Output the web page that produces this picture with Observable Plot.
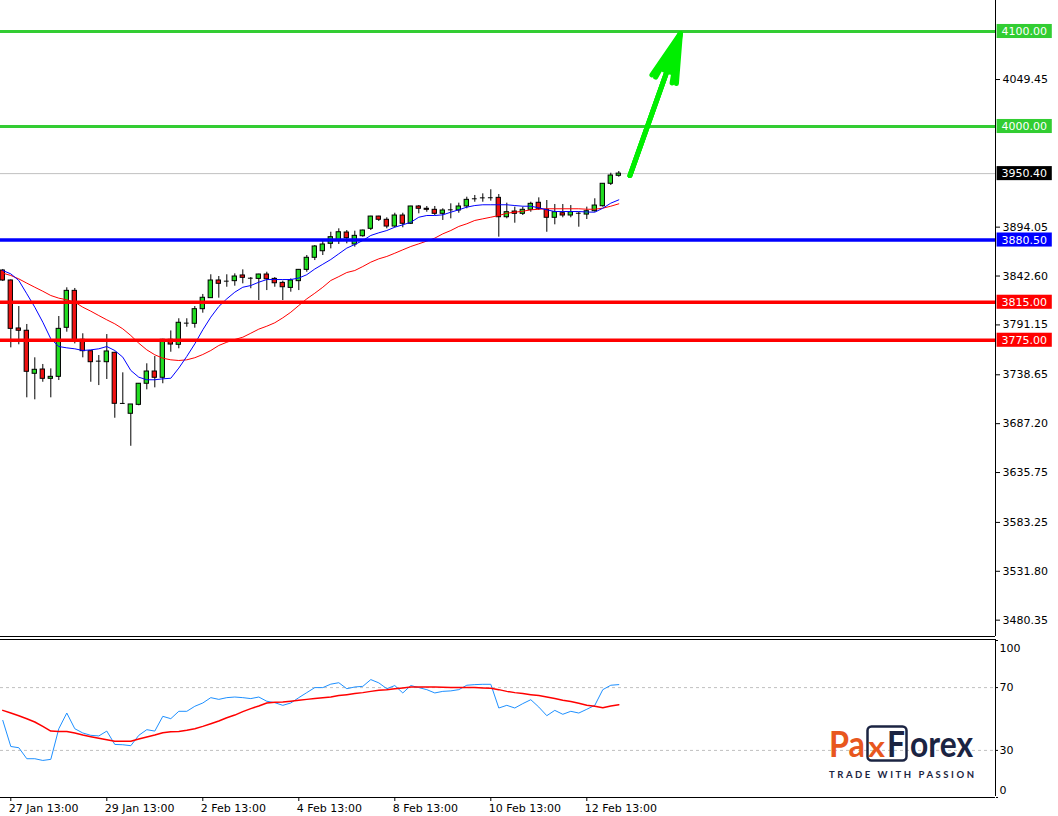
<!DOCTYPE html>
<html><head><meta charset="utf-8">
<script src="https://cdn.jsdelivr.net/npm/d3@7"></script>
<script src="https://cdn.jsdelivr.net/npm/@observablehq/plot@0.6"></script>
<style>
html,body{margin:0;padding:0;background:#fff;}
#wrap{position:relative;width:1058px;height:816px;overflow:hidden;font-family:"DejaVu Sans",sans-serif;}
#wrap svg{position:absolute;left:0;}
</style></head>
<body><div id="wrap"></div>
<script>
// ---- H4 candles (index 0 = first visible bar) ----
const opens  = [3848.4,3837.9,3787.4,3785.0,3739.7,3744.2,3734.4,3736.5,3788.1,3827.0,
                3775.5,3763.5,3753.0,3751.9,3761.8,3708.5,3697.6,3707.0,3729.2,3742.1,
                3735.5,3775.5,3770.2,3793.0,3792.3,3807.7,3819.3,3837.9,3837.2,3837.2,
                3843.2,3840.3,3839.6,3844.2,3839.6,3835.4,3830.1,3837.2,3849.1,3861.8,
                3868.7,3876.5,3880.0,3888.4,3875.8,3884.5,3892.3,3905.2,3901.8,3894.7,
                3906.3,3897.6,3915.8,3913.4,3912.3,3908.1,3912.3,3911.6,3915.8,3923.9,
                3924.9,3925.0,3924.9,3904.5,3910.5,3908.1,3912.3,3919.7,3912.3,3903.9,
                3908.7,3906.3,3908.7,3907.3,3910.8,3916.1,3939.7,3948.1];
const highs  = [3849.5,3838.5,3810.5,3791.6,3756.5,3749.5,3744.9,3800.0,3830.2,3829.5,
                3781.8,3764.0,3758.9,3781.0,3762.3,3740.7,3707.4,3729.5,3750.2,3757.9,
                3776.0,3784.8,3797.6,3797.6,3810.5,3823.2,3843.9,3842.1,3843.9,3844.9,
                3849.1,3841.0,3844.5,3846.6,3841.0,3837.2,3839.6,3849.5,3864.2,3874.7,
                3880.0,3888.7,3892.3,3890.5,3889.8,3891.0,3905.5,3905.5,3903.9,3908.7,
                3908.7,3916.0,3916.8,3915.8,3915.8,3913.4,3918.6,3919.3,3925.6,3927.4,
                3929.1,3933.4,3928.4,3919.3,3915.1,3915.1,3920.3,3924.9,3922.1,3917.9,
                3917.9,3916.8,3909.8,3915.1,3923.9,3940.0,3950.8,3952.6];
const lows   = [3836.8,3767.0,3770.2,3714.4,3712.3,3730.8,3714.4,3732.6,3783.5,3771.2,
                3756.5,3730.8,3727.3,3733.7,3692.9,3707.4,3663.4,3706.0,3722.8,3724.9,
                3729.2,3762.4,3766.0,3788.7,3787.7,3803.5,3819.0,3819.3,3830.8,3831.9,
                3834.4,3829.2,3816.8,3827.3,3830.8,3816.8,3825.6,3827.3,3846.6,3858.9,
                3864.2,3871.2,3875.8,3876.5,3873.0,3883.5,3890.5,3900.0,3892.3,3893.4,
                3893.4,3896.8,3908.1,3909.8,3906.3,3901.1,3902.8,3908.7,3913.4,3920.3,
                3920.3,3921.4,3883.5,3902.8,3898.2,3906.3,3909.8,3911.6,3888.7,3896.5,
                3903.9,3903.9,3894.0,3902.1,3909.8,3915.1,3937.9,3946.6];
const closes = [3837.9,3787.0,3785.0,3741.8,3743.9,3734.4,3736.5,3787.0,3827.0,3773.5,
                3763.5,3751.9,3753.0,3763.2,3708.1,3708.5,3707.4,3729.2,3742.1,3735.5,
                3775.5,3770.5,3793.4,3793.0,3807.7,3819.7,3837.9,3834.4,3837.2,3842.1,
                3840.7,3840.3,3844.2,3839.2,3835.0,3830.8,3837.9,3849.1,3861.8,3873.7,
                3875.8,3883.5,3888.7,3882.4,3884.9,3890.5,3905.2,3901.8,3894.7,3906.3,
                3897.6,3915.8,3913.4,3912.3,3908.1,3911.6,3912.3,3915.8,3922.8,3923.9,
                3924.9,3925.0,3904.5,3909.8,3908.1,3912.3,3918.6,3913.4,3903.9,3909.8,
                3906.3,3909.8,3908.7,3910.8,3916.8,3939.7,3948.4,3950.4];

// ---- moving averages ----
const maFast = [3848.4,3844.9,3837.9,3823.9,3809.8,3794.0,3776.5,3768.4,3767.0,3766.0,
                3764.2,3764.9,3766.0,3768.4,3764.2,3757.2,3743.2,3736.1,3733.4,3733.4,
                3734.4,3735.0,3745.7,3758.0,3771.2,3786.0,3799.3,3810.5,3818.6,3825.6,
                3830.8,3832.6,3836.1,3838.9,3838.9,3838.9,3838.9,3840.5,3844.0,3850.0,
                3855.0,3860.0,3866.0,3872.0,3875.8,3880.0,3885.3,3888.1,3890.5,3894.0,
                3896.5,3899.2,3904.5,3906.3,3906.3,3907.0,3909.8,3912.3,3915.1,3916.8,
                3917.6,3917.6,3917.6,3917.6,3916.8,3916.1,3916.1,3914.4,3912.3,3910.5,
                3910.5,3910.5,3910.5,3910.0,3909.8,3914.0,3919.3,3922.8];
const maSlow = [3845.6,3843.2,3839.6,3835.1,3830.8,3826.6,3822.1,3819.3,3817.6,3815.1,
                3809.8,3805.6,3801.0,3796.5,3792.3,3787.0,3780.0,3771.9,3764.9,3759.7,
                3756.1,3754.4,3753.7,3754.4,3756.6,3760.0,3764.2,3769.5,3772.9,3775.8,
                3778.2,3782.4,3786.7,3789.8,3793.4,3798.6,3804.5,3811.6,3818.6,3824.5,
                3830.8,3837.9,3842.0,3846.3,3848.4,3852.6,3857.2,3860.7,3863.2,3866.6,
                3870.2,3873.7,3876.5,3879.4,3882.5,3887.0,3890.5,3894.8,3897.6,3901.1,
                3902.8,3904.5,3906.3,3908.7,3909.8,3910.8,3912.3,3912.9,3913.4,3913.4,
                3913.4,3913.4,3913.4,3912.9,3912.9,3914.0,3916.1,3918.6];

// ---- oscillator panel ----
const rsi = [49.1,32.5,31.7,24.7,24.7,23.6,24.3,43.8,53.8,43.8,
             41.1,39.6,39.2,42.3,33.8,33.6,33.0,39.6,43.2,42.3,
             51.7,50.2,54.9,54.9,58.1,60.2,63.6,62.5,63.6,64.0,
             63.6,63.0,64.0,61.3,60.4,58.7,60.2,63.6,66.8,70.0,
             70.0,72.2,73.1,69.3,70.4,70.8,75.1,73.0,69.3,71.3,
             66.6,71.3,70.0,68.7,66.6,67.6,67.9,68.7,71.5,71.9,
             72.1,72.1,57.0,58.7,57.0,59.8,62.3,57.6,52.1,55.5,
             53.0,54.9,53.8,56.2,58.7,68.7,71.5,71.9];
const rsiSignal = [55.5,53.8,52.1,50.2,48.1,45.3,42.3,42.1,42.1,41.1,
                   39.8,38.7,37.7,36.8,35.8,35.8,35.8,37.2,38.5,39.8,
                   41.3,41.9,42.1,42.8,43.8,45.3,47.0,48.7,50.8,52.5,
                   54.7,56.6,58.3,60.2,60.6,60.8,61.3,61.9,62.5,63.0,
                   63.6,64.0,64.9,65.5,66.2,66.8,67.6,68.3,68.7,69.3,
                   69.8,70.4,70.4,70.4,70.4,70.2,70.0,70.0,70.0,70.0,
                   69.8,69.6,68.7,67.6,66.8,66.2,65.5,64.9,64.0,63.0,
                   61.9,61.1,60.0,58.7,58.1,57.2,58.3,59.1];

// ---- axes, levels, annotations ----
const priceTicks = [3480.35,3531.80,3583.25,3635.75,3687.20,3738.65,3791.15,3842.60,3894.05,4049.45];
const timeTickIndex  = [1,13,25,37,49,61,73];
const timeTickLabels = ["27 Jan 13:00","29 Jan 13:00","2 Feb 13:00","4 Feb 13:00","8 Feb 13:00","10 Feb 13:00","12 Feb 13:00"];
const targetLevels  = [4100, 4000];
const supportLevel  = [3880.5];
const resistLevels  = [3815, 3775];
const currentPrice  = 3950.40;
const tagValues = [4100, 4000, 3950.40, 3880.5, 3815, 3775];
const tagColors = ["#32cd32","#32cd32","#000000","#0000ff","#ff0000","#ff0000"];
const arrowFrom = [78.4, 3948.4];
const arrowTo   = [84.7, 4097.9];
const oscLevels = [70, 30];
const oscTicks  = [100, 70, 30, 0];

// ---- build ----
const candles = opens.map((o, i) => ({i, open: o, high: highs[i], low: lows[i], close: closes[i]}));
const bodies = candles.filter(d => d.open !== d.close);
const dojis = candles.filter(d => d.open === d.close);
const tags = tagValues.map((v, k) => ({v, color: tagColors[k]}));
const xMin = -0.2875, xMax = 124.0875;
const yLow = 3463.16, yHigh = 4132.63;
const st = {fontFamily: "DejaVu Sans, sans-serif", fontSize: "11px", background: "transparent", overflow: "visible", color: "black"};
const arrowSpec = {x1: d => d.a[0], y1: d => d.a[1], x2: d => d.b[0], y2: d => d.b[1], stroke: "#00ee00", strokeWidth: 5};
const arrowData = [{a: arrowFrom, b: arrowTo}];

const main = Plot.plot({
  width: 1058, height: 637,
  marginLeft: 0, marginRight: 63, marginTop: 0, marginBottom: 1,
  x: {type: "linear", domain: [xMin, xMax], axis: null},
  y: {type: "linear", domain: [yLow, yHigh], axis: "right", ticks: priceTicks,
      tickFormat: d => d.toFixed(2), tickSize: 4, tickPadding: 3, label: null},
  style: st,
  marks: [
    Plot.ruleY([currentPrice], {stroke: "#c0c0c0", strokeWidth: 1}),
    Plot.ruleX(candles, {x: "i", y1: "low", y2: "high", stroke: "black", strokeWidth: 1}),
    Plot.rect(bodies, {x1: d => d.i - 0.27, x2: d => d.i + 0.27, y1: "open", y2: "close",
      fill: d => d.close > d.open ? "#22dd22" : "#ee1111", stroke: "black", strokeWidth: 1}),
    Plot.ruleY(dojis, {y: "open", x1: d => d.i - 0.3, x2: d => d.i + 0.3, stroke: "black", strokeWidth: 1}),
    Plot.line(maSlow, {x: (d, i) => i, y: d => d, stroke: "#ff0000", strokeWidth: 1}),
    Plot.line(maFast, {x: (d, i) => i, y: d => d, stroke: "#0000ff", strokeWidth: 1}),
    Plot.ruleY(targetLevels, {stroke: "#33cc33", strokeWidth: 3}),
    Plot.ruleY(supportLevel, {stroke: "#0000ff", strokeWidth: 3.5}),
    Plot.ruleY(resistLevels, {stroke: "#ff0000", strokeWidth: 3.5}),
    Plot.arrow(arrowData, {...arrowSpec, headLength: 18, headAngle: 30}),
    Plot.arrow(arrowData, {...arrowSpec, headLength: 16, headAngle: 20}),
    Plot.arrow(arrowData, {...arrowSpec, headLength: 12, headAngle: 10}),
    Plot.ruleY([yLow], {stroke: "black", strokeWidth: 1}),
    Plot.ruleX([xMax], {stroke: "black", strokeWidth: 1}),
    Plot.rect(tags, {x1: xMax + 0.2, x2: xMax + 7.1, y1: d => d.v - 7.4, y2: d => d.v + 7.4, fill: "color"}),
    Plot.text(tags, {x: xMax, y: "v", text: d => d.v.toFixed(2), dx: 6, textAnchor: "start", fill: "white", fontSize: 11})
  ]
});
main.style.top = "0px";

const osc = Plot.plot({
  width: 1058, height: 179,
  marginLeft: 0, marginRight: 63, marginTop: 3, marginBottom: 19,
  x: {type: "linear", domain: [xMin, xMax], axis: "bottom", ticks: timeTickIndex,
      tickFormat: () => "", tickSize: 4, label: null},
  y: {type: "linear", domain: [0, 100], axis: "right", ticks: oscTicks,
      tickFormat: d => oscLevels.includes(d) ? String(d) : "", tickSize: 2, tickPadding: 2, label: null},
  style: st,
  marks: [
    Plot.ruleY(oscLevels, {stroke: "#c0c0c0", strokeDasharray: "3,3"}),
    Plot.line(rsi, {x: (d, i) => i, y: d => d, stroke: "#1e90ff", strokeWidth: 1}),
    Plot.line(rsiSignal, {x: (d, i) => i, y: d => d, stroke: "#ff0000", strokeWidth: 1.5}),
    Plot.ruleY([0], {stroke: "black"}),
    Plot.ruleY([100], {stroke: "black", dy: -1}),
    Plot.ruleX([xMax], {stroke: "black", dy: -1}),
    Plot.text(timeTickIndex, {x: d => d, y: 0, dy: 11, dx: -2, text: d => timeTickLabels[timeTickIndex.indexOf(d)],
      textAnchor: "start", fill: "black", fontSize: 11}),
    Plot.text([100], {x: xMax, y: d => d, dx: 4, dy: 8, text: d => String(d), textAnchor: "start", fill: "black", fontSize: 11}),
    Plot.text([0], {x: xMax, y: d => d, dx: 4, dy: -7, text: d => String(d), textAnchor: "start", fill: "black", fontSize: 11})
  ]
});
osc.style.top = "637px";

const wrap = document.getElementById("wrap");
wrap.appendChild(main);
wrap.appendChild(osc);

// ---- logo ----
const navy = "#1b2442", orange = "#e8571e";
const logo = d3.select(wrap).append("svg").attr("width", 1058).attr("height", 816).style("top", "0px")
  .attr("font-family", "Lato, 'Open Sans', sans-serif").attr("font-weight", "bold");
logo.append("text").attr("x", 829).attr("y", 757).attr("font-size", 36).attr("fill", orange)
  .attr("textLength", 36).attr("lengthAdjust", "spacingAndGlyphs").text("Pa");
logo.append("rect").attr("x", 867.5).attr("y", 726.5).attr("width", 39).attr("height", 34).attr("rx", 4)
  .attr("fill", "none").attr("stroke", navy).attr("stroke-width", 2.5);
logo.append("text").attr("x", 868).attr("y", 757).attr("font-size", 28).attr("fill", orange)
  .attr("textLength", 17).attr("lengthAdjust", "spacingAndGlyphs").text("x");
logo.append("text").attr("x", 887).attr("y", 757).attr("font-size", 36).attr("fill", navy)
  .attr("textLength", 18).attr("lengthAdjust", "spacingAndGlyphs").text("F");
logo.append("text").attr("x", 910).attr("y", 757).attr("font-size", 36).attr("fill", navy)
  .attr("textLength", 63).attr("lengthAdjust", "spacingAndGlyphs").text("orex");
logo.append("text").attr("x", 829).attr("y", 778).attr("font-size", 9.5).attr("fill", navy)
  .attr("textLength", 145).attr("lengthAdjust", "spacing").text("TRADE WITH PASSION");
</script>
</body></html>
